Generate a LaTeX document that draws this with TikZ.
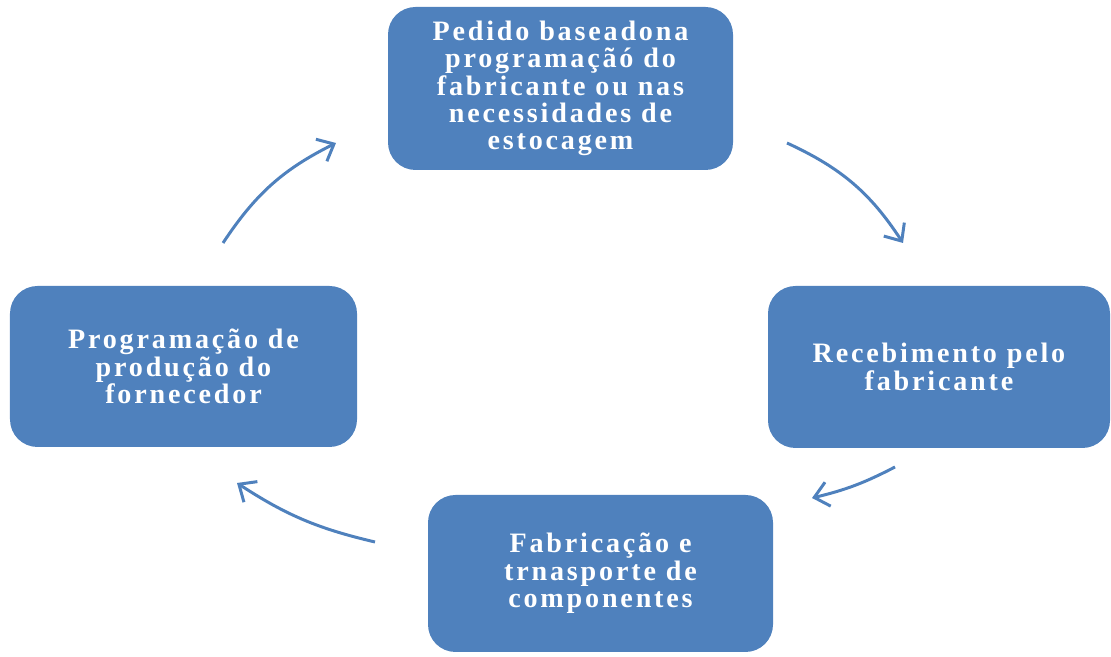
\documentclass[tikz,border=0pt]{standalone}
\usepackage{fontspec}
\setmainfont{Liberation Serif}
\newfontfamily\boxfont[LetterSpace=10]{Liberation Serif}
\usetikzlibrary{arrows.meta}
\definecolor{boxblue}{RGB}{79,129,189}
\definecolor{arrowblue}{RGB}{79,129,189}
\tikzset{%
  stagebox/.style  = {shape=rectangle, rounded corners=0.55cm,%
                      fill=boxblue, draw=none, align=center, text=white,%
                      font=\boxfont\bfseries\fontsize{16}{15.6}\selectfont,%
                      minimum width=6.9cm, minimum height=3.2cm},%
  flowarrow/.style = {draw=arrowblue, line width=1.7pt,%
                      -{Straight Barb[length=8pt,width=14pt,line width=1.7pt]}}%
}
\begin{document}
\begin{tikzpicture}
    \useasboundingbox (0,0) rectangle (22.22,13.14);
    % the four stages
    \node[stagebox, minimum height=3.26cm] (pedido) at (11.21,11.37)
        {Pedido baseadona\\programaçãó do\\fabricante ou nas\\necessidades de\\estocagem};
    \node[stagebox, minimum width=6.84cm, minimum height=3.24cm] (recebimento) at (18.78,5.80)
        {Recebimento pelo\\fabricante};
    \node[stagebox, minimum height=3.14cm] (fabricacao) at (12.01,1.67)
        {Fabricação e\\trnasporte de\\componentes};
    \node[stagebox, minimum width=6.94cm, minimum height=3.22cm] (programacao) at (3.67,5.81)
        {Programação de\\produção do\\fornecedor};
    % arrow ends
    \coordinate (pedido-out)       at (15.74,10.28);
    \coordinate (recebimento-in)   at (18.06,8.28);
    \coordinate (recebimento-out)  at (17.90,3.80);
    \coordinate (fabricacao-in)    at (16.24,3.18);
    \coordinate (fabricacao-out)   at (7.50,2.30);
    \coordinate (programacao-in)   at (4.74,3.48);
    \coordinate (programacao-out)  at (4.46,8.28);
    \coordinate (pedido-in)        at (6.72,10.28);
    % the cycle
    \draw[flowarrow] (pedido-out) to[bend left=16] (recebimento-in);
    \draw[flowarrow] (recebimento-out) to[bend left=7] (fabricacao-in);
    \draw[flowarrow] (fabricacao-out) to[bend left=10] (programacao-in);
    \draw[flowarrow] (programacao-out) to[bend left=15] (pedido-in);
\end{tikzpicture}
\end{document}
